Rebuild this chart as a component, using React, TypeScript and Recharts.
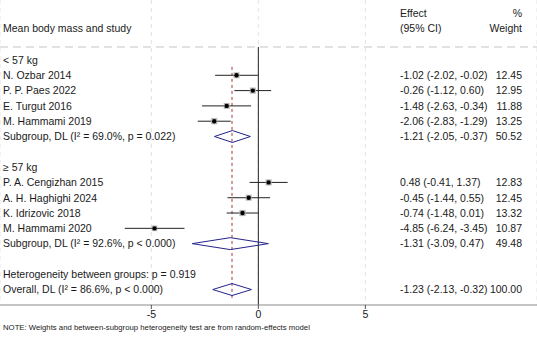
import React from 'react';
import { ComposedChart, XAxis, YAxis, Scatter, ReferenceLine, CartesianGrid } from 'recharts';

// ---------- data ----------
const rowLabels = [
  '< 57 kg',
  'N. Ozbar 2014',
  'P. P. Paes 2022',
  'E. Turgut 2016',
  'M. Hammami 2019',
  'Subgroup, DL (I\u00B2 = 69.0%, p = 0.022)',
  '',
  '\u2265 57 kg',
  'P. A. Cengizhan 2015',
  'A. H. Haghighi 2024',
  'K. Idrizovic 2018',
  'M. Hammami 2020',
  'Subgroup, DL (I\u00B2 = 92.6%, p < 0.000)',
  '',
  'Heterogeneity between groups: p = 0.919',
  'Overall, DL (I\u00B2 = 86.6%, p < 0.000)',
];

const studyRows = [1, 2, 3, 4, 8, 9, 10, 11];
const studyEffects = [-1.02, -0.26, -1.48, -2.06, 0.48, -0.45, -0.74, -4.85];
const studyLower = [-2.02, -1.12, -2.63, -2.83, -0.41, -1.44, -1.48, -6.24];
const studyUpper = [-0.02, 0.6, -0.34, -1.29, 1.37, 0.55, 0.01, -3.45];
const studyWeights = [12.45, 12.95, 11.88, 13.25, 12.83, 12.45, 13.32, 10.87];

const pooledRows = [5, 12, 15];
const pooledEffects = [-1.21, -1.31, -1.23];
const pooledLower = [-2.05, -3.09, -2.13];
const pooledUpper = [-0.37, 0.47, -0.32];
const pooledWeights = [50.52, 49.48, 100.0];

const overallEffect = -1.23;
const xTicks = [-5, 0, 5];

const headerLeft = ['Mean body mass and study'];
const headerEffect = ['Effect', '(95% CI)'];
const headerWeight = ['%', 'Weight'];
const noteText = 'NOTE: Weights and between-subgroup heterogeneity test are from random-effects model';

// ---------- layout / style constants ----------
const W = 537;
const H = 338;
const X_DOMAIN: [number, number] = [-12.07, 13.02];
const Y_DOMAIN: [number, number] = [-3.92, 16.01];
const HEADER_ROWS = [-3.05, -2.07];
const HEADER_LINE_ROW = -0.85;
const DIAMOND_HALF = 0.39;
const FONT = '"Liberation Sans", Arial, Helvetica, sans-serif';
const FS = 10.5;
const TEXT_COLOR = '#1a1a1a';
const DIAMOND_COLOR = '#23238a';

// ---------- derived tables ----------
const fmt = (v: number) => v.toFixed(2);
const studies = studyRows.map((r, i) => ({
  x: studyEffects[i],
  y: r,
  lo: studyLower[i],
  hi: studyUpper[i],
  w: studyWeights[i],
}));
const pooled = pooledRows.map((r, i) => ({
  x: pooledEffects[i],
  y: r,
  lo: pooledLower[i],
  hi: pooledUpper[i],
  w: pooledWeights[i],
}));

const labelData = [
  ...headerLeft.map((t) => ({ x: 0, y: HEADER_ROWS[1], text: t })),
  ...rowLabels.map((t, i) => ({ x: 0, y: i, text: t })).filter((d) => d.text !== ''),
];
const effectData = [
  ...headerEffect.map((t, i) => ({ x: 0, y: HEADER_ROWS[i], text: t })),
  ...[...studies, ...pooled].map((d) => ({
    x: 0,
    y: d.y,
    text: `${fmt(d.x)} (${fmt(d.lo)}, ${fmt(d.hi)})`,
  })),
];
const weightData = [
  ...headerWeight.map((t, i) => ({ x: 0, y: HEADER_ROWS[i], text: t })),
  ...[...studies, ...pooled].map((d) => ({ x: 0, y: d.y, text: fmt(d.w) })),
];

const textShape = (xPos: number, anchor: 'start' | 'end') => (props: any) => (
  <text
    x={xPos}
    y={props.cy}
    dy="0.36em"
    textAnchor={anchor}
    fontFamily={FONT}
    fontSize={FS}
    fill={TEXT_COLOR}
  >
    {props.payload.text}
  </text>
);

const markerShape = (props: any) => {
  const { cx, cy, payload } = props;
  const s = 6 * Math.sqrt(payload.w / 12.5);
  return (
    <g>
      <rect x={cx - s / 2} y={cy - s / 2} width={s} height={s} fill="#b4b4b4" />
      <circle cx={cx} cy={cy} r={2.2} fill="#000" />
    </g>
  );
};

export default function App() {
  return (
    <div style={{ position: 'absolute', left: 0, top: 0, width: W, height: H, background: '#fff' }}>
      <ComposedChart width={W} height={H} margin={{ top: 0, right: 0, bottom: 0, left: 0 }}>
        <CartesianGrid vertical horizontal={false} stroke="#e2e2e2" strokeDasharray="4 4" />
        <XAxis
          type="number"
          dataKey="x"
          domain={X_DOMAIN}
          allowDataOverflow
          ticks={xTicks}
          height={33}
          tickSize={4}
          axisLine={{ stroke: '#8a8a8a' }}
          tickLine={{ stroke: '#555' }}
          tick={{ fill: TEXT_COLOR, fontSize: FS, fontFamily: FONT }}
        />
        <YAxis type="number" dataKey="y" domain={Y_DOMAIN} allowDataOverflow reversed hide />

        <ReferenceLine y={HEADER_LINE_ROW} stroke="#c4c4c4" strokeDasharray="8 5" />
        <ReferenceLine
          segment={[
            { x: 0, y: HEADER_LINE_ROW },
            { x: 0, y: Y_DOMAIN[1] },
          ]}
          stroke="#222"
          strokeWidth={1}
        />
        <ReferenceLine
          segment={[
            { x: overallEffect, y: 0.45 },
            { x: overallEffect, y: 15.7 },
          ]}
          stroke="#a03838"
          strokeDasharray="3 3"
        />

        {studies.map((d, i) => (
          <ReferenceLine
            key={`ci${i}`}
            segment={[
              { x: d.lo, y: d.y },
              { x: d.hi, y: d.y },
            ]}
            stroke="#222"
            strokeWidth={1}
          />
        ))}

        {pooled.map((d, i) => (
          <React.Fragment key={`dm${i}`}>
            <ReferenceLine segment={[{ x: d.lo, y: d.y }, { x: d.x, y: d.y - DIAMOND_HALF }]} stroke={DIAMOND_COLOR} />
            <ReferenceLine segment={[{ x: d.x, y: d.y - DIAMOND_HALF }, { x: d.hi, y: d.y }]} stroke={DIAMOND_COLOR} />
            <ReferenceLine segment={[{ x: d.hi, y: d.y }, { x: d.x, y: d.y + DIAMOND_HALF }]} stroke={DIAMOND_COLOR} />
            <ReferenceLine segment={[{ x: d.x, y: d.y + DIAMOND_HALF }, { x: d.lo, y: d.y }]} stroke={DIAMOND_COLOR} />
          </React.Fragment>
        ))}

        <Scatter data={studies} shape={markerShape} isAnimationActive={false} />
        <Scatter data={labelData} shape={textShape(3, 'start')} isAnimationActive={false} />
        <Scatter data={effectData} shape={textShape(400, 'start')} isAnimationActive={false} />
        <Scatter data={weightData} shape={textShape(522, 'end')} isAnimationActive={false} />
      </ComposedChart>
      <div
        style={{
          position: 'absolute',
          left: 3,
          top: 323,
          fontFamily: FONT,
          fontSize: 7.75,
          color: TEXT_COLOR,
          whiteSpace: 'nowrap',
          lineHeight: '10px',
        }}
      >
        {noteText}
      </div>
    </div>
  );
}
